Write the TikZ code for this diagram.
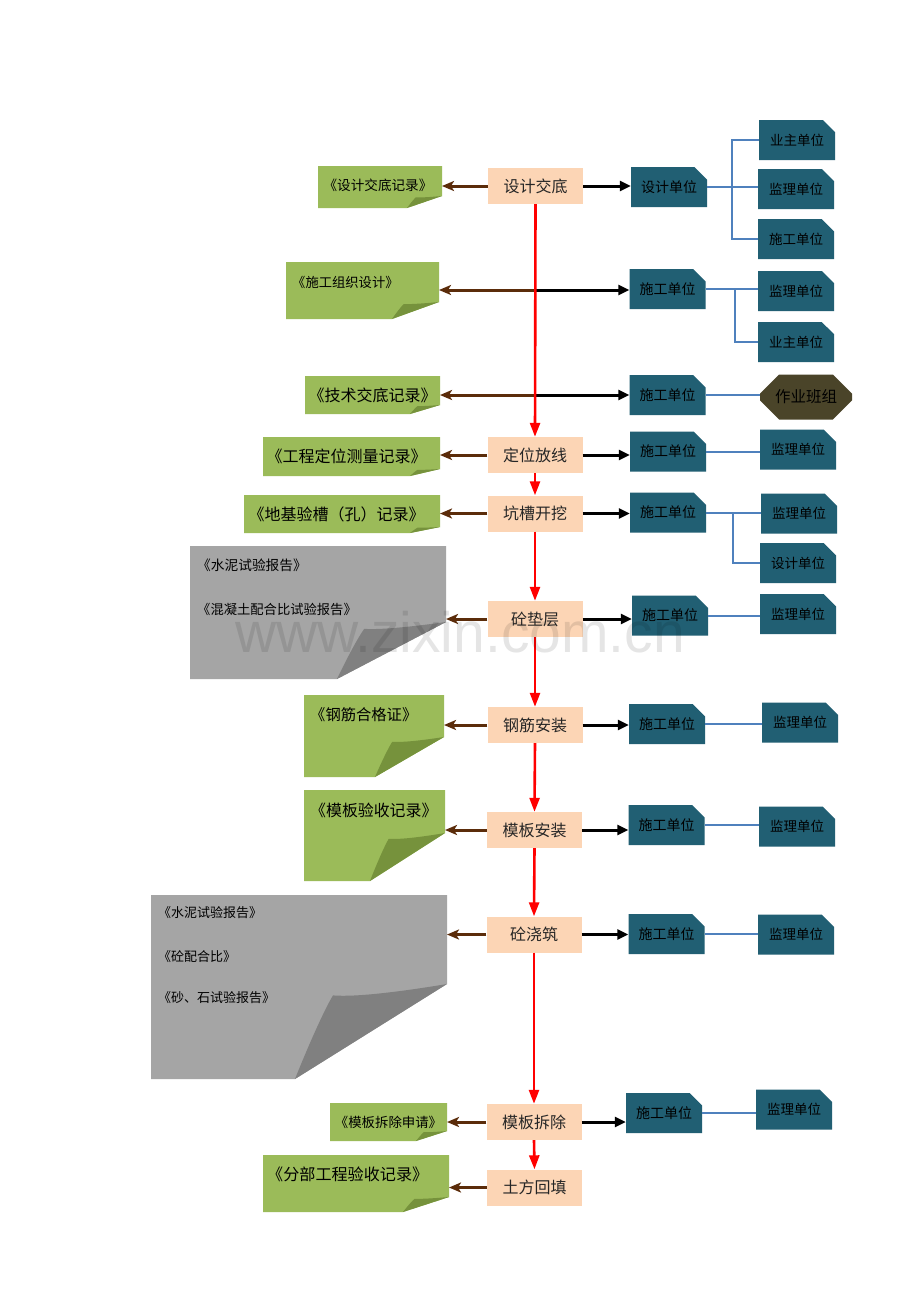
\documentclass[tikz,border=0pt]{standalone}
\usepackage{fontspec}
\setmainfont{Noto Sans CJK SC}
\newfontfamily\wmfont{Liberation Sans}
\usetikzlibrary{arrows.meta,shapes.misc,calc}

\definecolor{peach}{HTML}{FCD5B5}
\definecolor{unitc}{HTML}{215F73}
\definecolor{olivec}{HTML}{4A4429}
\definecolor{docg}{HTML}{9BBB59}
\definecolor{docgf}{HTML}{76923C}
\definecolor{docy}{HTML}{A5A5A5}
\definecolor{docyf}{HTML}{808080}
\definecolor{brownc}{HTML}{5B2C0A}
\definecolor{linkc}{HTML}{4F81BD}

% folded page: name, fold x, fold y, fill, flap colour
\newcommand{\fpage}[5]{%
 \coordinate (#1-B) at ([xshift=-#2 pt]#1.south east);
 \coordinate (#1-R) at ([yshift=#3 pt]#1.south east);
 \fill[#4] (#1.north west) -- (#1.north east) -- (#1-R) -- (#1-B) -- (#1.south west) -- cycle;
 \fill[#5] (#1-B) .. controls ($(#1-B)+(0.1*#2,-0.4*#3)$) and ($(#1-B)+(0.2*#2,-0.75*#3)$) .. ($(#1-B)+(0.25*#2,-0.88*#3)$) .. controls ($(#1-B)+(0.4*#2,-0.86*#3)$) and ($(#1-B)+(0.7*#2,-0.92*#3)$) .. (#1-R) -- cycle;
}

\tikzset{
 proc/.style={fill=peach, minimum width=95pt, minimum height=36pt, inner sep=0pt, text=black!85, font=\fontsize{16}{18}\selectfont},
 unit/.style={chamfered rectangle, chamfered rectangle corners=north east, chamfered rectangle xsep=12pt, chamfered rectangle ysep=6pt, fill=unitc, minimum width=76pt, minimum height=40pt, inner sep=0pt, text=black, font=\fontsize{14}{16}\selectfont},
 unitb/.style={unit, font=\fontsize{13.5}{15}\selectfont},
 octa/.style={chamfered rectangle, chamfered rectangle xsep=8pt, chamfered rectangle ysep=12pt, fill=olivec, minimum width=92pt, minimum height=45pt, inner sep=0pt, text=black, font=\fontsize{15.5}{17}\selectfont},
 pagebox/.style={inner sep=0pt, outer sep=0pt},
 doctext/.style={inner sep=0pt, text=black},
 redarr/.style={draw=red, line width=2.6pt, -{Triangle[length=14pt,width=10pt]}},
 blkarr/.style={draw=black, line width=3pt, -{Triangle[length=11pt,width=10pt]}},
 brnarr/.style={draw=brownc, line width=3pt, -{Stealth[length=12pt,width=10pt,inset=3pt]}},
 link/.style={draw=linkc, line width=2pt}
}

\begin{document}
\begin{tikzpicture}[x=1pt,y=-1pt]
\useasboundingbox (0,0) rectangle (920,1302);
\fill[white] (0,0) rectangle (920,1302);

% ---------- document pages ----------
\node[pagebox, minimum width=124pt, minimum height=42pt] (d1) at (380,187) {};
\node[pagebox, minimum width=153pt, minimum height=57pt] (d2) at (362.5,290.5) {};
\node[pagebox, minimum width=135pt, minimum height=38pt] (d3) at (372.5,395) {};
\node[pagebox, minimum width=177pt, minimum height=39pt] (d4) at (351.5,456.5) {};
\node[pagebox, minimum width=196pt, minimum height=38pt] (d5) at (342,514) {};
\node[pagebox, minimum width=256pt, minimum height=133pt] (g1) at (318,612.5) {};
\node[pagebox, minimum width=140pt, minimum height=82pt] (d7) at (374,736) {};
\node[pagebox, minimum width=141pt, minimum height=91pt] (d8) at (374.5,835.5) {};
\node[pagebox, minimum width=296pt, minimum height=184pt] (g2) at (299,987) {};
\node[pagebox, minimum width=117pt, minimum height=38pt] (d10) at (388.5,1122) {};
\node[pagebox, minimum width=186pt, minimum height=57pt] (d11) at (356,1183.5) {};

\fpage{d1}{35}{12}{docg}{docgf}
\fpage{d2}{47}{17}{docg}{docgf}
\fpage{d3}{30}{9}{docg}{docgf}
\fpage{d4}{30}{7}{docg}{docgf}
\fpage{d5}{30}{6}{docg}{docgf}
\fpage{g1}{109}{57}{docy}{docyf}
\fpage{d7}{69}{40}{docg}{docgf}
\fpage{d8}{75}{48}{docg}{docgf}
\fpage{g2}{152}{95}{docy}{docyf}
\fpage{d10}{31}{10}{docg}{docgf}
\fpage{d11}{46}{15}{docg}{docgf}

\node[doctext, font=\fontsize{13.6}{15}\selectfont] (td1) at (378,185) {《设计交底记录》};
\node[doctext, anchor=west, font=\fontsize{13.3}{15}\selectfont] (td2) at (292,282) {《施工组织设计》};
\node[doctext, font=\fontsize{16}{18}\selectfont] (td3) at (372.5,395) {《技术交底记录》};
\node[doctext, font=\fontsize{16}{18}\selectfont] (td4) at (346.5,456) {《工程定位测量记录》};
\node[doctext, font=\fontsize{16}{18}\selectfont] (td5) at (336.5,514) {《地基验槽（孔）记录》};
\node[doctext, anchor=west, font=\fontsize{13.7}{15}\selectfont] (tg1a) at (197,565) {《水泥试验报告》};
\node[doctext, anchor=west, font=\fontsize{13.3}{15}\selectfont] (tg1b) at (197,609) {《混凝土配合比试验报告》};
\node[doctext, anchor=west, font=\fontsize{15.3}{17}\selectfont] (td7) at (310,715) {《钢筋合格证》};
\node[doctext, anchor=west, font=\fontsize{15.9}{17}\selectfont] (td8) at (310,810) {《模板验收记录》};
\node[doctext, anchor=west, font=\fontsize{13}{15}\selectfont] (tg2a) at (158,913) {《水泥试验报告》};
\node[doctext, anchor=west, font=\fontsize{13}{15}\selectfont] (tg2b) at (158,957) {《砼配合比》};
\node[doctext, anchor=west, font=\fontsize{13}{15}\selectfont] (tg2c) at (158,998) {《砂、石试验报告》};
\node[doctext, font=\fontsize{13.4}{15}\selectfont] (td10) at (388.5,1122) {《模板拆除申请》};
\node[doctext, anchor=west, font=\fontsize{16.1}{18}\selectfont] (td11) at (267,1174) {《分部工程验收记录》};

% ---------- process boxes ----------
\node[proc] (p1) at (535.5,186) {设计交底};
\node[proc] (p2) at (535,455) {定位放线};
\node[proc] (p3) at (535,513.5) {坑槽开挖};
\node[proc] (p4) at (535,619) {砼垫层};
\node[proc] (p5) at (535,725) {钢筋安装};
\node[proc] (p6) at (534.5,830) {模板安装};
\node[proc] (p7) at (534,934.5) {砼浇筑};
\node[proc] (p8) at (534,1122) {模板拆除};
\node[proc] (p9) at (534.5,1187.5) {土方回填};
\coordinate (j1) at (535.3,290);
\coordinate (j2) at (535.2,395);

% ---------- units, first column ----------
\node[unit] (t1) at (669,187) {设计单位};
\node[unit] (t2) at (667.5,289) {施工单位};
\node[unit] (t3) at (667.5,395) {施工单位};
\node[unit] (t4) at (668,451.5) {施工单位};
\node[unit] (t5) at (668,512.5) {施工单位};
\node[unit] (t6) at (670,615.5) {施工单位};
\node[unit] (t7) at (667,724) {施工单位};
\node[unit] (t8) at (666.5,825) {施工单位};
\node[unit] (t9) at (666.5,934) {施工单位};
\node[unit] (t10) at (664,1113) {施工单位};

% ---------- units, second column ----------
\node[unitb] (s1) at (797,140) {业主单位};
\node[unitb] (s2) at (796,189) {监理单位};
\node[unitb] (s3) at (796,239) {施工单位};
\node[unitb] (s4) at (796,291) {监理单位};
\node[unitb] (s5) at (796,342) {业主单位};
\node[octa] (o1) at (806,397) {作业班组};
\node[unitb] (s6) at (798,449.5) {监理单位};
\node[unitb] (s7) at (799,513.5) {监理单位};
\node[unitb] (s8) at (798,563) {设计单位};
\node[unitb] (s9) at (798,614) {监理单位};
\node[unitb] (s10) at (800,722.5) {监理单位};
\node[unitb] (s11) at (797,826.5) {监理单位};
\node[unitb] (s12) at (796,934.5) {监理单位};
\node[unitb] (s13) at (794,1109.5) {监理单位};

% ---------- blue links ----------
\coordinate (b1) at ($(t1.east)+(25,0)$);
\draw[link] (t1.east) -- (t1.east -| s2.west);
\draw[link] (s1.west) -| (b1) |- (s3.west);
\coordinate (b2) at ($(t2.east)+(29,0)$);
\draw[link] (t2.east) -- (t2.east -| s4.west);
\draw[link] (b2) |- (s5.west);
\draw[link] (t3.east) -- (t3.east -| o1.west);
\draw[link] (t4.east) -- (t4.east -| s6.west);
\coordinate (b5) at ($(t5.east)+(27,0)$);
\draw[link] (t5.east) -- (t5.east -| s7.west);
\draw[link] (b5) |- (s8.west);
\draw[link] (t6.east) -- (t6.east -| s9.west);
\draw[link] (t7.east) -- (t7.east -| s10.west);
\draw[link] (t8.east) -- (t8.east -| s11.west);
\draw[link] (t9.east) -- (t9.east -| s12.west);
\draw[link] (t10.east) -- (t10.east -| s13.west);

% ---------- black arrows to units ----------
\draw[blkarr] (p1.east) -- (p1.east -| t1.west);
\draw[blkarr] (j1) -- (j1 -| t2.west);
\draw[blkarr] (j2) -- (j2 -| t3.west);
\draw[blkarr] (p2.east) -- (p2.east -| t4.west);
\draw[blkarr] (p3.east) -- (p3.east -| t5.west);
\draw[blkarr] (p4.east) -- (p4.east -| t6.west);
\draw[blkarr] (p5.east) -- (p5.east -| t7.west);
\draw[blkarr] (p6.east) -- (p6.east -| t8.west);
\draw[blkarr] (p7.east) -- (p7.east -| t9.west);
\draw[blkarr] (p8.east) -- (p8.east -| t10.west);

% ---------- brown arrows to documents ----------
\draw[brnarr] (p1.west) -- (p1.west -| d1.east);
\draw[brnarr] (j1) -- (j1 -| d2.east);
\draw[brnarr] (j2) -- (j2 -| d3.east);
\draw[brnarr] (p2.west) -- (p2.west -| d4.east);
\draw[brnarr] (p3.west) -- (p3.west -| d5.east);
\draw[brnarr] (p4.west) -- (p4.west -| g1.east);
\draw[brnarr] (p5.west) -- (p5.west -| d7.east);
\draw[brnarr] (p6.west) -- (p6.west -| d8.east);
\draw[brnarr] (p7.west) -- (p7.west -| g2.east);
\draw[brnarr] (p8.west) -- (p8.west -| d10.east);
\draw[brnarr] (p9.west) -- (p9.west -| d11.east);

% ---------- red main flow ----------
\draw[redarr] (p1.south) -- (p2.north);
\draw[redarr] (p2.south) -- (p3.north);
\draw[redarr] (p3.south) -- (p4.north);
\draw[redarr] (p4.south) -- (p5.north);
\draw[redarr] (p5.south) -- (p6.north);
\draw[redarr] (p6.south) -- (p7.north);
\draw[redarr] (p7.south) -- (p8.north);
\draw[redarr] (p8.south) -- (p9.north);

% ---------- watermark ----------
\node[inner sep=0pt, anchor=base, text=black, text opacity=0.1, font=\wmfont\fontsize{57}{60}\selectfont] (wm) at (460,652) {www.zixin.com.cn};
\end{tikzpicture}
\end{document}
